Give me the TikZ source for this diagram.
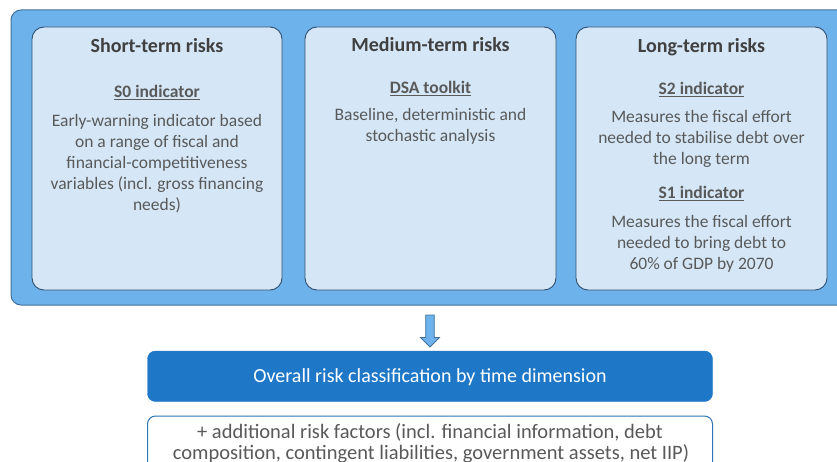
\documentclass[tikz,border=0pt]{standalone}
\usepackage{fontspec}
\setmainfont{Carlito}
\definecolor{outerfill}{HTML}{6DB2EB}
\definecolor{outerline}{HTML}{41719C}
\definecolor{innerfill}{HTML}{D5E7F7}
\definecolor{innerline}{HTML}{2F4F70}
\definecolor{darkblue}{HTML}{1F78C7}
\definecolor{wline}{HTML}{2E75B6}
\definecolor{titlecol}{HTML}{404040}
\definecolor{bodycol}{HTML}{595959}
\begin{document}
\begin{tikzpicture}[x=1pt,y=-1pt,
  outerbox/.style={draw=outerline, line width=1pt, fill=outerfill, rounded corners=10pt},
  innerbox/.style={draw=innerline, line width=0.9pt, fill=innerfill, rounded corners=12pt},
  ttl/.style={inner sep=0pt, anchor=base, text=titlecol, font=\fontsize{20}{24}\selectfont\bfseries},
  sub/.style={inner sep=0pt, anchor=base, text=bodycol, font=\fontsize{17.5}{21}\selectfont\bfseries},
  body/.style={inner sep=0pt, anchor=base, text=bodycol, font=\fontsize{17.5}{21}\selectfont},
  bigbody/.style={inner sep=0pt, anchor=base, text=bodycol, font=\fontsize{20.5}{24}\selectfont},
  whitetxt/.style={inner sep=0pt, anchor=base, text=white, font=\fontsize{20}{24}\selectfont},
  blockarrow/.style={draw=outerline, line width=0.8pt, fill=outerfill}
]
\useasboundingbox (0,0) rectangle (837,462);
\begin{scope}
\clip (0,0) rectangle (837,462);
% outer panel
\draw[outerbox] (11,10) rectangle (850,305);
% inner boxes
\draw[innerbox] (32,27) rectangle (282,290);
\draw[innerbox] (305,27) rectangle (556,290);
\draw[innerbox] (576,27) rectangle (827,290);
% bottom boxes
\draw[draw=darkblue, fill=darkblue, rounded corners=8pt] (147.5,351) rectangle (712.5,401.5);
\draw[draw=wline, line width=1pt, fill=white, rounded corners=8pt] (147.5,416) rectangle (712.5,480);
\end{scope}

% short-term
\node[ttl] (t1) at (157,52.5) {Short-term risks};
\node[sub] (s0) at (157,98) {\underline{S0 indicator}};
\foreach \t [count=\i from 0] in {{Early-warning indicator based},{on a range of fiscal and},{financial-competitiveness},{variables (incl. gross financing},{needs)}}
  \node[body] (b1\i) at (157,{127+21*\i}) {\t};

% medium-term
\node[ttl] (t2) at (430.5,51.5) {Medium-term risks};
\node[sub] (dsa) at (430.5,93.5) {\underline{DSA toolkit}};
\foreach \t [count=\i from 0] in {{Baseline, deterministic and},{stochastic analysis}}
  \node[body] (b2\i) at (430.5,{121+21*\i}) {\t};

% long-term
\node[ttl] (t3) at (701.5,52.5) {Long-term risks};
\node[sub] (s2) at (701.5,95) {\underline{S2 indicator}};
\foreach \t [count=\i from 0] in {{Measures the fiscal effort},{needed to stabilise debt over},{the long term}}
  \node[body] (b3\i) at (701.5,{122.5+21.2*\i}) {\t};
\node[sub] (s1) at (701.5,199) {\underline{S1 indicator}};
\foreach \t [count=\i from 0] in {{Measures the fiscal effort},{needed to bring debt to},{60\% of GDP by 2070}}
  \node[body] (b4\i) at (701.5,{227.5+21.2*\i}) {\t};

% block arrow
\draw[blockarrow] (425.7,315) -- (434.3,315) -- (434.3,337.5) -- (439.5,337.5) -- (430,347) -- (420.5,337.5) -- (425.7,337.5) -- cycle;

% bottom texts
\node[whitetxt] (ov) at (430,382) {Overall risk classification by time dimension};
\node[bigbody] (ad1) at (430,438) {+ additional risk factors (incl. financial information, debt};
\node[bigbody] (ad2) at (431,459.5) {composition, contingent liabilities, government assets, net IIP)};
\end{tikzpicture}
\end{document}
